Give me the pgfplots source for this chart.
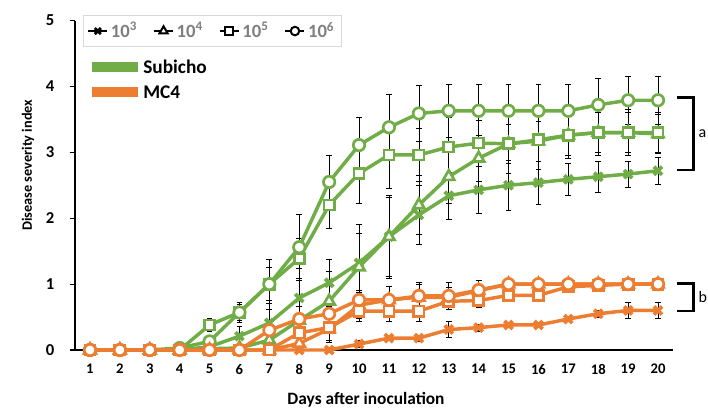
\documentclass[border=0pt]{standalone}
\usepackage{fontspec}
\setmainfont{Carlito}
\usepackage{pgfplots}
\usepackage{pgfplotstable}
\pgfplotsset{compat=1.18}
\definecolor{sgreen}{HTML}{70AD47}
\definecolor{morange}{HTML}{ED7D31}
\definecolor{leggray}{HTML}{7F7F7F}

% g = Subicho, o = MC4; X=10^3, T=10^4, S=10^5, O=10^6; e = error
\pgfplotstableread{
day gX   gXe  gT   gTe  gS   gSe  gO   gOe  oX   oXe  oT   oTe  oS   oSe  oO   oOe
1   0    0    0    0    0    0    0    0    0    0    0    0    0    0    0    0
2   0    0    0    0    0    0    0    0    0    0    0    0    0    0    0    0
3   0    0    0    0    0    0    0    0    0    0    0    0    0    0    0    0
4   0    0    0    0    0    0    0.03 0.03 0    0    0    0    0    0    0    0
5   0.05 0.05 0.02 0.02 0.38 0.10 0.13 0.10 0    0    0    0    0    0    0    0
6   0.21 0.15 0.03 0.05 0.57 0.15 0.57 0.12 0    0    0    0    0    0    0    0
7   0.41 0.30 0.15 0.20 1.00 0.25 1.00 0.38 0    0    0    0    0    0    0.30 0.15
8   0.79 0.45 0.45 0.30 1.39 0.30 1.56 0.50 0    0    0.10 0.10 0.26 0.15 0.47 0.20
9   1.02 0.35 0.74 0.45 2.20 0.35 2.55 0.40 0    0.03 0.32 0.20 0.34 0.20 0.55 0.20
10  1.32 0.45 1.26 0.65 2.68 0.45 3.11 0.42 0.09 0.05 0.68 0.20 0.59 0.15 0.76 0.15
11  1.72 0.60 1.72 0.63 2.96 0.50 3.38 0.50 0.18 0.03 0.76 0.20 0.59 0.15 0.76 0.20
12  2.05 0.45 2.20 0.45 2.96 0.40 3.59 0.43 0.18 0.05 0.80 0.20 0.59 0.15 0.82 0.20
13  2.34 0.35 2.63 0.40 3.08 0.45 3.63 0.40 0.31 0.12 0.80 0.15 0.74 0.10 0.82 0.20
14  2.43 0.35 2.91 0.35 3.14 0.35 3.63 0.40 0.34 0.05 0.90 0.15 0.75 0.10 0.91 0.15
15  2.50 0.38 3.13 0.30 3.13 0.45 3.63 0.40 0.38 0.03 1.00 0.05 0.83 0.05 1.00 0.05
16  2.54 0.33 3.17 0.30 3.19 0.45 3.63 0.40 0.38 0.03 1.00 0.05 0.83 0.05 1.00 0.05
17  2.59 0.25 3.26 0.30 3.26 0.35 3.63 0.40 0.47 0.03 1.00 0.05 0.96 0.05 1.00 0.05
18  2.63 0.23 3.30 0.30 3.30 0.35 3.72 0.40 0.55 0.05 1.00 0.05 0.98 0.05 1.00 0.05
19  2.67 0.20 3.30 0.30 3.30 0.35 3.79 0.37 0.60 0.12 1.00 0.05 1.00 0.05 1.00 0.05
20  2.72 0.20 3.28 0.30 3.30 0.30 3.79 0.37 0.60 0.12 1.00 0.05 1.00 0.05 1.00 0.05
}\dsi

\pgfplotsset{
  ser/.style={line width=2.6pt, mark size=4.3pt,
    mark options={solid, fill=white, line width=2pt}},
  serx/.style={line width=2.6pt, mark=x, mark size=4.3pt,
    mark options={solid, line width=2.8pt}},
}

\begin{document}
\begin{tikzpicture}
\begin{axis}[
    scale only axis,
    width=448.5pt, height=247.1pt,
    xmin=0.5, xmax=20.5, ymin=0, ymax=5,
    axis x line*=bottom, axis y line*=left,
    axis line style={-, black, line width=0.8pt},
    xtick={1,...,20}, ytick={0,...,5},
    tick align=outside, major tick length=4pt,
    xtick style={draw=none},
    ytick style={black, line width=0.8pt},
    /pgf/number format/assume math mode=true,
    x tick label style={font=\bfseries\fontsize{11}{11}\selectfont, yshift=-3pt},
    y tick label style={font=\bfseries\fontsize{12.5}{12.5}\selectfont, xshift=-8pt},
    xlabel={Days after inoculation},
    ylabel={Disease severity index},
    xlabel style={font=\bfseries\fontsize{13}{13}\selectfont,
      at={(axis description cs:0.4866,-0.1517)}, anchor=center},
    ylabel style={font=\bfseries\fontsize{10.7}{10.7}\selectfont,
      at={(axis description cs:-0.0786,0.561)}, anchor=center},
    clip=false,
    error bars/y dir=both, error bars/y explicit,
    error bars/error bar style={black, line width=0.5pt},
    error bars/error mark options={black, line width=0.5pt, mark size=2.2pt, rotate=90},
    legend columns=4,
    legend cell align=left,
    legend style={at={(axis description cs:0.0134,1.0167)}, anchor=north west,
      draw=gray!30, line width=0.6pt, text=leggray,
      font=\bfseries\fontsize{14}{14}\selectfont,
      /tikz/every even column/.append style={column sep=10pt},
      inner xsep=3pt, inner ysep=3pt},
    legend image code/.code={\draw[mark repeat=2, mark phase=2]
      plot coordinates {(0cm,0cm) (0.25cm,0cm) (0.5cm,0cm)};},
]
\addlegendimage{black, line width=1.4pt, mark=x, mark size=3.2pt, mark options={solid, line width=2pt}}
\addlegendentry{10\textsuperscript{3}}
\addlegendimage{black, line width=1.4pt, mark=triangle*, mark size=3.6pt, mark options={solid, fill=white, line width=1.5pt}}
\addlegendentry{10\textsuperscript{4}}
\addlegendimage{black, line width=1.4pt, mark=square*, mark size=3pt, mark options={solid, fill=white, line width=1.5pt}}
\addlegendentry{10\textsuperscript{5}}
\addlegendimage{black, line width=1.4pt, mark=*, mark size=3.2pt, mark options={solid, fill=white, line width=1.5pt}}
\addlegendentry{10\textsuperscript{6}}

% Subicho
\addplot[sgreen, serx, forget plot] table[x=day, y=gX, y error=gXe]{\dsi};
\addplot[sgreen, ser, mark=triangle*, mark size=4.8pt, forget plot] table[x=day, y=gT, y error=gTe]{\dsi};
\addplot[sgreen, ser, mark=square*, mark size=3.8pt, forget plot] table[x=day, y=gS, y error=gSe]{\dsi};
\addplot[sgreen, ser, mark=*, forget plot] table[x=day, y=gO, y error=gOe]{\dsi};
% MC4
\addplot[morange, serx, forget plot] table[x=day, y=oX, y error=oXe]{\dsi};
\addplot[morange, ser, mark=triangle*, mark size=4.8pt, forget plot] table[x=day, y=oT, y error=oTe]{\dsi};
\addplot[morange, ser, mark=square*, mark size=3.8pt, forget plot] table[x=day, y=oS, y error=oSe]{\dsi};
\addplot[morange, ser, mark=*, forget plot] table[x=day, y=oO, y error=oOe]{\dsi};
\end{axis}

% colour keys
\fill[sgreen] (12.5pt,208.7pt) rectangle (47.5pt,216.2pt);
\node[anchor=west, inner sep=0pt, font=\bfseries\fontsize{14.5}{14.5}\selectfont] at (51pt,212.5pt) {Subicho};
\fill[morange] (12.5pt,189.5pt) rectangle (47.5pt,197pt);
\node[anchor=west, inner sep=0pt, font=\bfseries\fontsize{14.5}{14.5}\selectfont] at (51pt,193.5pt) {MC4};

% significance brackets
\draw[line width=1.9pt] (451.3pt,189.5pt) -- (463.7pt,189.5pt) -- (463.7pt,135pt) -- (451.3pt,135pt);
\node[anchor=west, inner sep=0pt, font=\fontsize{12}{12}\selectfont] at (467.5pt,162.4pt) {a};
\draw[line width=1.9pt] (451.3pt,50pt) -- (463.7pt,50pt) -- (463.7pt,29.3pt) -- (451.3pt,29.3pt);
\node[anchor=west, inner sep=0pt, font=\fontsize{12}{12}\selectfont] at (467.5pt,39.7pt) {b};

\pgfresetboundingbox
\path[use as bounding box] (-56.25pt,-45pt) rectangle (474.75pt,262.5pt);
\end{tikzpicture}
\end{document}
